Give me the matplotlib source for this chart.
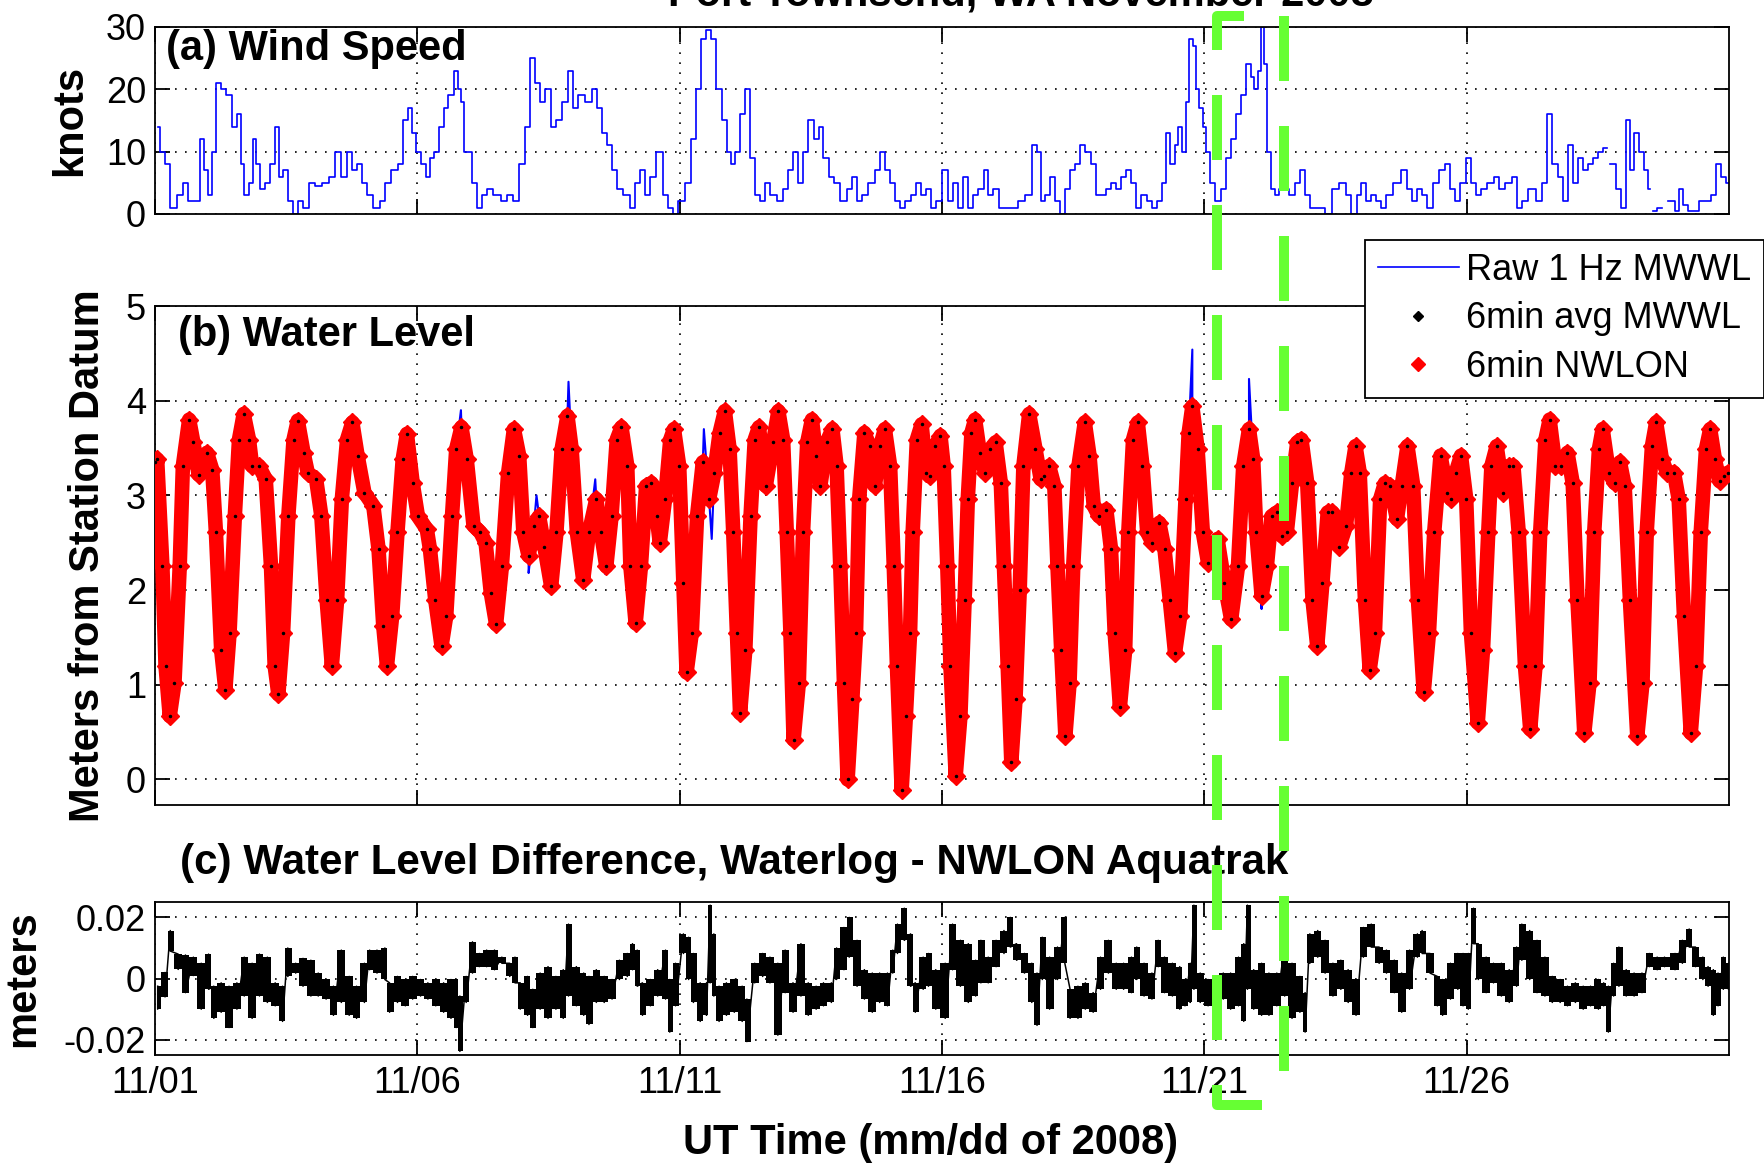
import numpy as np
import matplotlib.pyplot as plt
import matplotlib.transforms as mtransforms
from matplotlib.lines import Line2D

plt.rcParams['font.family'] = ['Liberation Sans', 'DejaVu Sans']
plt.rcParams['axes.unicode_minus'] = False

# time axis: days since 2008-11-01 00:00 UT
day_ticks = [0, 5, 10, 15, 20, 25]
day_labels = ['11/01', '11/06', '11/11', '11/16', '11/21', '11/26']

# (a) wind speed, knots (nan = data gap)
wind_day = [
    0.05, 0.15, 0.24, 0.34, 0.49, 0.58, 0.68, 0.83, 0.88, 0.97,
    1.05, 1.12, 1.22, 1.31, 1.41, 1.51, 1.61, 1.65, 1.75, 1.85,
    1.90, 1.96, 2.04, 2.14, 2.24, 2.33, 2.41, 2.48, 2.58, 2.68,
    2.77, 2.87, 3.00, 3.11, 3.26, 3.36, 3.50, 3.60, 3.70, 3.79,
    3.89, 3.99, 4.09, 4.23, 4.33, 4.43, 4.57, 4.69, 4.77, 4.86,
    4.94, 5.01, 5.11, 5.20, 5.27, 5.37, 5.47, 5.54, 5.64, 5.74,
    5.80, 5.86, 5.93, 6.01, 6.08, 6.18, 6.27, 6.37, 6.52, 6.66,
    6.76, 6.89, 7.00, 7.10, 7.20, 7.30, 7.39, 7.49, 7.59, 7.68,
    7.83, 7.91, 8.01, 8.12, 8.27, 8.37, 8.46, 8.56, 8.66, 8.75,
    8.85, 9.00, 9.10, 9.19, 9.29, 9.39, 9.48, 9.63, 9.73, 9.82,
    9.92, 10.02, 10.17, 10.26, 10.36, 10.46, 10.55, 10.65, 10.75, 10.85,
    10.94, 11.01, 11.09, 11.19, 11.28, 11.38, 11.48, 11.58, 11.67, 11.77,
    11.92, 12.01, 12.11, 12.21, 12.31, 12.40, 12.50, 12.60, 12.69, 12.79,
    12.89, 12.99, 13.13, 13.23, 13.33, 13.42, 13.52, 13.67, 13.76, 13.86,
    13.96, 14.06, 14.15, 14.25, 14.35, 14.45, 14.54, 14.64, 14.74, 14.83,
    14.93,
    15.06, 15.15, 15.25, 15.35, 15.45, 15.54, 15.64, 15.74, 15.84, 15.93,
    16.03, 16.13, 16.22, 16.37, 16.52, 16.66, 16.76, 16.86, 16.91, 17.00,
    17.10, 17.20, 17.29, 17.39, 17.49, 17.59, 17.68, 17.78, 17.88, 17.98,
    18.07, 18.17, 18.27, 18.36, 18.46, 18.56, 18.66, 18.75, 18.85, 18.95,
    19.05, 19.14, 19.24, 19.29, 19.39, 19.48, 19.53, 19.61, 19.68, 19.75,
    19.82, 19.87, 19.94, 20.00, 20.07, 20.16, 20.26, 20.36, 20.46, 20.55,
    20.65, 20.75, 20.85, 20.91, 20.99, 21.05, 21.11, 21.17, 21.23, 21.30,
    21.38, 21.48, 21.57, 21.67, 21.77, 21.87, 21.96, 22.06, 22.16, 22.26,
    22.35, 22.50, 22.64, 22.74, 22.86, 22.94, 23.03, 23.13, 23.23, 23.33,
    23.42, 23.52, 23.67, 23.81, 23.91, 24.01, 24.10, 24.20, 24.30, 24.40,
    24.54, 24.64, 24.74, 24.83, 24.93, 25.03, 25.13, 25.22, 25.32, 25.47,
    25.56, 25.66, 25.81, 25.90, 26.00, 26.10, 26.24, 26.39, 26.49, 26.58,
    26.68, 26.78, 26.88, 26.97, 27.07, 27.17, 27.27, 27.36, 27.46, 27.56,
    27.65, 27.70, 27.78, 27.90, 27.99, 28.07, 28.14, 28.24, 28.34, 28.43,
    28.48, 28.52, 28.58, 28.68, 28.75, 28.92, 29.02, 29.08, 29.16, 29.26,
    29.36, 29.50, 29.60, 29.70, 29.79, 29.89, 29.99,
]
nan = np.nan
wind_kt = [
    14, 10, 8, 1, 3, 5, 2, 2, 12, 7,
    3, 10, 21, 20, 19, 14, 16, 8, 3, 5,
    12, 8, 4, 5, 8, 14, 6, 7, 2, 0,
    2, 1, 5, 4.5, 5, 6, 10, 6, 10, 7,
    8, 5, 3, 1, 2, 5, 7, 8, 15, 17,
    13, 10, 8, 6, 9, 10, 14, 17, 19, 23,
    20, 18, 10, 10, 5, 1, 3, 4, 3, 2,
    3, 2, 8, 14, 25, 21, 18, 20, 14, 15,
    18, 23, 17, 19, 18, 20, 17, 13, 11, 7,
    4, 3, 1, 5, 7, 3, 6, 10, 3, 1,
    0, 2, 5, 12, 20, 28, 29.5, 28, 20, 15,
    10, 8, 10, 16, 20, 9, 3, 2, 5, 3,
    2, 4, 7, 10, 5, 10, 15, 12, 14, 9,
    6, 5, 2, 4, 6, 2, 3, 5, 7, 10,
    7, 5, 2, 1, 2, 3, 5, 3, 4, 1,
    2,
    7, 2, 5, 1, 6, 1, 3, 4, 7, 3,
    4, 1, 1, 1, 2, 3, 11, 10, 2, 3,
    6, 2, 0, 4, 7, 8, 11, 10, 8, 3,
    3, 4, 5, 4, 6, 7, 5, 1, 3, 2,
    1, 2, 5, 13, 8, 11, 14, 10, 18, 28,
    27, 20, 17, 14, 10, 5, 2, 4, 9, 12,
    16, 19, 24, 22, 20, 23, 30, 24, 10, 4,
    3, 4, 4, 3, 5, 7, 3, 1, 1, 1,
    0, 4, 5, 3, 0, 3, 5, 2, 3, 2,
    1, 3, 5, 7, 4, 2, 4, 3, 1, 5,
    7, 8, 4, 2, 5, 9, 5, 3, 4, 5,
    6, 4, 5, 6, 1, 2, 4, 2, 5, 16,
    8, 6, 2, 11, 5, 9, 7, 8, 9, 10,
    10.5, nan, 8, 4, 1, 15, 7, 13, 10, 7,
    4, nan, 0.5, 1, nan, 2, 0.5, 4, 1.5, 0.5,
    0.5, 2, 2, 3, 8, 6, 5,
]

# (b) 6-minute water level, meters above station datum
wl_day = [
    0.00, 0.04, 0.14, 0.20, 0.28, 0.37, 0.47, 0.53, 0.65, 0.73,
    0.83, 0.99, 1.09, 1.16, 1.26, 1.34, 1.42, 1.52, 1.60, 1.69,
    1.79, 1.85, 1.98, 2.11, 2.21, 2.28, 2.35, 2.44, 2.54, 2.64,
    2.72, 2.83, 2.91, 3.07, 3.17, 3.27, 3.37, 3.47, 3.56, 3.66,
    3.76, 3.86, 3.99, 4.16, 4.26, 4.35, 4.42, 4.52, 4.62, 4.72,
    4.80, 4.91, 5.01, 5.18, 5.24, 5.34, 5.46, 5.55, 5.66, 5.74,
    5.84, 5.94, 6.07, 6.20, 6.30, 6.40, 6.50, 6.61, 6.73, 6.84,
    6.94, 7.02, 7.12, 7.22, 7.32, 7.42, 7.55, 7.65, 7.75, 7.86,
    7.94, 8.04, 8.16, 8.27, 8.41, 8.50, 8.60, 8.70, 8.80, 8.89,
    9.00, 9.06, 9.16, 9.26, 9.36, 9.46, 9.56, 9.62, 9.72, 9.82,
    9.89, 9.99,
    10.07, 10.13, 10.23, 10.33, 10.44, 10.56, 10.66, 10.76, 10.86, 10.95,
    11.02, 11.09, 11.15, 11.25, 11.35, 11.43, 11.51, 11.64, 11.78, 11.88,
    11.97, 12.04, 12.11, 12.17, 12.27, 12.35, 12.43, 12.52, 12.60, 12.68,
    12.80, 12.91, 12.99, 13.06, 13.13, 13.20, 13.29, 13.36, 13.42, 13.52,
    13.62, 13.72, 13.82, 13.91, 14.01, 14.08, 14.14, 14.23, 14.31, 14.39,
    14.44, 14.52, 14.61, 14.70, 14.77, 14.87, 14.97, 15.03, 15.10, 15.16,
    15.26, 15.35, 15.43, 15.49, 15.56, 15.63, 15.72, 15.82, 15.92, 16.02,
    16.12, 16.18, 16.25, 16.32, 16.40, 16.48, 16.55, 16.66, 16.78, 16.88,
    16.94, 17.04, 17.14, 17.20, 17.27, 17.35, 17.43, 17.50, 17.60, 17.72,
    17.81, 17.89, 17.99, 18.13, 18.22, 18.29, 18.39, 18.49, 18.55, 18.64,
    18.73, 18.82, 18.91, 19.01, 19.14, 19.24, 19.34, 19.44, 19.54, 19.64,
    19.70, 19.77, 19.87, 19.97, 20.07,
    20.25, 20.38, 20.51, 20.64, 20.74, 20.85, 20.93, 20.99, 21.09, 21.19,
    21.28, 21.38, 21.48, 21.57, 21.67, 21.77, 21.85, 21.96, 22.06, 22.15,
    22.25, 22.35, 22.44, 22.57, 22.70, 22.80, 22.88, 22.96, 23.06, 23.15,
    23.25, 23.35, 23.44, 23.54, 23.67, 23.76, 23.87, 23.98, 24.07, 24.18,
    24.28, 24.38, 24.50, 24.63, 24.70, 24.79, 24.89, 24.99, 25.08, 25.21,
    25.31, 25.41, 25.47, 25.57, 25.70, 25.80, 25.89, 25.99, 26.11, 26.21,
    26.31, 26.40, 26.50, 26.58, 26.69, 26.79, 26.92, 27.02, 27.11, 27.24,
    27.34, 27.43, 27.52, 27.59, 27.71, 27.82, 27.92, 28.01, 28.11, 28.25,
    28.35, 28.43, 28.53, 28.61, 28.72, 28.82, 28.95, 29.04, 29.14, 29.27,
    29.37, 29.46, 29.56, 29.64, 29.73, 29.82, 29.91, 29.98,
]
wl_m = [
    3.35, 3.38, 2.25, 1.20, 0.67, 1.02, 2.25, 3.31, 3.80, 3.56,
    3.22, 3.45, 3.27, 2.61, 1.37, 0.95, 1.55, 2.78, 3.59, 3.86,
    3.59, 3.31, 3.31, 3.17, 2.25, 1.20, 0.90, 1.55, 2.78, 3.59,
    3.79, 3.45, 3.24, 3.17, 2.78, 1.90, 1.20, 1.90, 2.96, 3.59,
    3.77, 3.42, 3.03, 2.89, 2.43, 1.62, 1.20, 1.73, 2.61, 3.38,
    3.65, 3.13, 2.78, 2.64, 2.43, 1.90, 1.41, 1.73, 2.78, 3.49,
    3.72, 3.38, 2.68, 2.61, 2.50, 1.97, 1.64, 2.25, 3.24, 3.70,
    3.42, 2.61, 2.36, 2.68, 2.78, 2.46, 2.04, 2.61, 3.49, 3.84,
    3.49, 2.61, 2.11, 2.61, 2.96, 2.61, 2.25, 2.78, 3.59, 3.72,
    3.31, 2.25, 1.65, 2.25, 3.10, 3.13, 2.78, 2.50, 2.96, 3.59,
    3.70, 3.31,
    2.08, 1.13, 1.55, 2.78, 3.35, 2.96, 3.24, 3.66, 3.89, 3.49,
    2.61, 1.55, 0.70, 1.37, 2.78, 3.59, 3.72, 3.10, 3.56, 3.89,
    3.59, 2.61, 1.55, 0.42, 1.02, 2.61, 3.56, 3.80, 3.42, 3.10,
    3.56, 3.70, 3.31, 2.25, 1.02, 0.00, 0.85, 1.55, 2.96, 3.66,
    3.52, 3.10, 3.52, 3.70, 3.31, 2.25, 1.20, -0.11, 0.67, 1.55,
    2.61, 3.59, 3.75, 3.24, 3.20, 3.52, 3.63, 3.31, 2.25, 1.20,
    0.04, 0.67, 1.90, 2.96, 3.66, 3.80, 3.45, 3.24, 3.49, 3.56,
    3.13, 2.25, 1.20, 0.18, 0.85, 2.00, 3.31, 3.86, 3.49, 3.17,
    3.20, 3.31, 3.10, 2.25, 1.37, 0.46, 1.02, 2.25, 3.31, 3.77,
    3.42, 2.89, 2.78, 2.85, 2.43, 1.55, 0.77, 1.37, 2.61, 3.59,
    3.77, 3.31, 2.61, 2.50, 2.71, 2.43, 1.90, 1.34, 1.73, 2.96,
    3.66, 3.94, 3.49, 2.61, 2.29,
    2.54, 2.08, 1.69, 2.25, 3.31, 3.70, 3.38, 2.61, 1.94, 2.25,
    2.78, 2.82, 2.57, 2.61, 3.13, 3.56, 3.59, 3.13, 1.90, 1.41,
    2.08, 2.82, 2.82, 2.46, 2.68, 3.24, 3.52, 3.24, 1.90, 1.16,
    1.55, 2.96, 3.13, 3.10, 2.75, 3.10, 3.52, 3.10, 1.90, 0.92,
    1.55, 2.61, 3.42, 3.03, 2.96, 3.24, 3.42, 2.96, 1.55, 0.60,
    1.37, 2.61, 3.31, 3.52, 3.03, 3.31, 3.31, 2.61, 1.20, 0.53,
    1.20, 2.61, 3.59, 3.80, 3.31, 3.31, 3.45, 3.13, 1.90, 0.49,
    1.02, 2.61, 3.49, 3.70, 3.24, 3.13, 3.35, 3.10, 1.90, 0.46,
    1.02, 2.61, 3.52, 3.77, 3.38, 3.24, 3.24, 2.96, 1.73, 0.49,
    1.20, 2.61, 3.49, 3.70, 3.38, 3.15, 3.20, 3.24,
]

# short excursions of the raw 1 Hz record away from the 6-min values
spike_day = [5.83, 7.12, 7.27, 7.88, 8.39, 8.58, 10.46, 10.61, 10.86, 19.77, 20.85, 21.09]
spike_m = [3.90, 2.18, 3.00, 4.20, 3.17, 2.17, 3.70, 2.54, 3.97, 4.54, 4.23, 1.80]

# (c) Waterlog - Aquatrak difference, upper / lower edge of the trace (mm)
diff_day = [
    0.05, 0.19, 0.29, 0.44, 0.58, 0.73, 0.88, 1.02, 1.12, 1.26,
    1.41, 1.56, 1.70, 1.85, 1.99, 2.14, 2.29, 2.43, 2.53, 2.68,
    2.82, 2.97, 3.11, 3.26, 3.40, 3.55, 3.70, 3.84, 3.99, 4.09,
    4.23, 4.38, 4.47, 4.62, 4.77, 4.91, 5.06, 5.20, 5.35, 5.50,
    5.64, 5.74, 5.81, 5.93, 6.05, 6.18, 6.32, 6.47, 6.61, 6.76,
    6.86, 6.96, 7.10, 7.20, 7.34, 7.49, 7.64, 7.78, 7.88, 8.03,
    8.17, 8.27, 8.41, 8.56, 8.71, 8.85, 9.00, 9.10, 9.19, 9.29,
    9.44, 9.58, 9.73, 9.81, 9.92, 10.07, 10.17, 10.26, 10.39, 10.51,
    10.58, 10.65, 10.75, 10.89, 11.04, 11.19, 11.28, 11.43, 11.58, 11.72,
    11.87, 12.01, 12.16, 12.31, 12.45, 12.60, 12.74, 12.89, 12.99, 13.13,
    13.23, 13.38, 13.52, 13.67, 13.81, 13.96, 14.06, 14.15, 14.28, 14.40,
    14.49, 14.64, 14.74, 14.88,
    15.06, 15.20, 15.35, 15.50, 15.64, 15.74, 15.88, 16.03, 16.18, 16.30,
    16.42, 16.57, 16.71, 16.81, 16.91, 17.05, 17.20, 17.34, 17.44, 17.59,
    17.73, 17.88, 18.02, 18.17, 18.32, 18.46, 18.61, 18.71, 18.85, 19.00,
    19.12, 19.24, 19.39, 19.53, 19.63, 19.73, 19.80, 19.92, 20.07, 20.21,
    20.36, 20.50, 20.65, 20.75, 20.82, 20.94, 21.09, 21.23, 21.38, 21.53,
    21.67, 21.82, 21.92, 22.01, 22.16, 22.30, 22.45, 22.60, 22.74, 22.89,
    23.03, 23.18, 23.33, 23.47, 23.62, 23.76, 23.91, 24.06, 24.15, 24.30,
    24.44, 24.54, 24.69, 24.83, 24.93, 25.03, 25.13, 25.22, 25.37, 25.51,
    25.66, 25.81, 25.95, 26.05, 26.20, 26.34, 26.49, 26.63, 26.78, 26.92,
    27.07, 27.22, 27.36, 27.51, 27.61, 27.70, 27.80, 27.90, 28.04, 28.19,
    28.34, 28.48, 28.63, 28.77, 28.97, 29.11, 29.24, 29.36, 29.50, 29.60,
    29.70, 29.79, 29.89, 29.99,
]
diff_hi_mm = [
    -2.5, 2, 15.7, 8, 7.7, 7, 5, 8, -2.5, -1.4,
    -2.5, -1.4, 7, 5, 8, 7, -1.4, -2.5, 10, 5,
    6.6, 6, 1.8, -0.3, -2.5, 9.3, 0.7, -2.5, 5, 9.3,
    9.3, 10, -1.4, 0.7, -0.3, 0.7, -0.3, -1.4, -0.3, -1.4,
    -0.3, -0.3, -5.7, 0.7, 12, 8.2, 9.3, 9.3, 7, 5,
    7, -1.4, 0.7, -3.5, 1.8, 3.9, 0.7, 2.9, 17.8, 3.9,
    1.8, 0.7, 2.9, 0.7, -0.3, 6, 8.2, 11.4, 9.3, -1.4,
    -0.3, 2.9, 9.3, -0.3, 5, 14.6, 13.5, 8.2, -1.4, -1.4,
    24, 14.6, -2.5, -1.4, -0.3, -2.5, -6.7, 5, 8.2, 7,
    5, 9.3, -1.4, 11.4, -1.4, -2.5, -1.4, -1.4, 10, 16.7,
    20, 12.5, 2.9, 1.8, 1.8, 1.8, 9.3, 17.8, 23, 14.6,
    -1.4, 7, 8.2, 2.9,
    5, 17.8, 12.5, 11.4, 6, 12.5, 7, 12.5, 15.7, 20,
    11.4, 8.2, 5, 1.8, 13.5, 7, 10.3, 20, -3.5, -2.5,
    -1.4, -4.6, 7, 12.5, 5, 5, 7, 10.3, 5, 1.8,
    12.5, 7, 5, 3.9, -0.3, 5, 24, 1.8, -0.3, -0.3,
    1.8, 1.8, 7, 11.4, 24, 2.9, 5, 1.8, 1.8, 11.4,
    5, 0.7, -4.6, 14.6, 15.7, 12.5, 5, 6, 2.9, -0.3,
    16.7, 17.8, 10.3, 9.3, 6, 1.8, 9.3, 14.6, 15.7, 8.2,
    0.7, -0.3, 5, 8.2, 8.2, 8.2, 23, 11.4, 7, 5,
    5, 2.9, 10.3, 17.8, 15.7, 12.5, 7, 0.7, -0.3, -2.5,
    -1.4, -2.5, -2.5, -0.3, -1.4, -2.5, 5, 10.3, 2.9, 1.8,
    1.8, 8.2, 7, 7, 8.2, 12.5, 16.2, 10.3, 7, 3.9,
    2.9, 1.8, 7, 5,
]
diff_lo_mm = [
    -10, -6, 9, 3, -4.6, 1, -10, -3.5, -13, -11,
    -16, -10, -5.7, -13, -5.7, -7.8, -8.9, -14, 0.7, 1.8,
    -2.5, -5.7, -5.7, -6.7, -12, -7.8, -12, -13, -7.8, 2.9,
    1.8, -0.3, -11, -7.8, -8.9, -6.7, -5.7, -6.7, -8.9, -11,
    -13, -16, -23.8, -7.8, 1.8, 3.9, 3.9, 2.9, 5, 0.7,
    -1.4, -10, -12, -16, -10, -13, -10, -13, -5.7, -8.9,
    -12, -15, -7.8, -7.8, -6.7, -0.3, 0.7, 2.9, -2.5, -12,
    -8.9, -5.7, -6.7, -17.5, -8.9, 8.2, -0.3, -7.8, -14, -12,
    -1.4, -5.7, -14, -12, -11, -14, -20.6, -1.4, 0.7, -1.4,
    -18.5, -4.6, -11, -5.7, -12, -10, -8.9, -7.8, -0.3, 2.9,
    7, -2.5, -6.7, -11, -7.8, -8.9, 1.8, 8.2, 12.5, -2.5,
    -11, -3.5, -2.5, -10,
    -13, 2.9, -2.5, -7.8, -5.7, -1.4, -1.4, 3.9, 8.2, 10.3,
    6, 1.8, -7.8, -15.3, -0.3, -10, -0.3, 5, -13, -13,
    -10, -11, -3.5, 1.8, -3.5, -3.5, -4.6, -0.3, -5.7, -6.7,
    3.9, -4.6, -5.7, -10, -8.9, -7.8, -3.5, -7.8, -8.9, -7.8,
    -6.7, -10, -8.9, -14, -3.5, -10, -12, -12, -8.9, -5.7,
    -13, -11, -17.5, 5, 7, 1.8, -5.7, -3.5, -7.8, -12,
    7, 10.3, 5, 1.8, -4.6, -11, -3.5, 7, 8.2, 1.8,
    -8.9, -12, -6.7, -3.5, -8.9, -10, 11.4, -0.3, -4.6, -1.4,
    -5.7, -7.8, -2.5, 6, -0.3, -4.6, -5.7, -7.8, -7.8, -8.9,
    -7.8, -10, -8.9, -10, -8.9, -17.5, -5.7, -2.5, -5.7, -5.7,
    -4.6, 3.9, 2.9, 3.9, 2.9, 5, 10.3, 3.9, -0.3, -2.5,
    -12, -8.9, -3.5, -3.5,
]

# highlighted interval (days) shown in the detailed figure
box_days = (20.24, 21.52)

# raw record = 6-min series with the spikes merged in time order
raw_day = np.concatenate([wl_day, spike_day])
raw_m = np.concatenate([wl_m, spike_m])
order = np.argsort(raw_day)
raw_day, raw_m = raw_day[order], raw_m[order]

# difference trace: envelope plus a top/bottom zig-zag
hi_m = np.array(diff_hi_mm) / 1000.0
lo_m = np.array(diff_lo_mm) / 1000.0
d_day = np.repeat(diff_day, 2)
d_m = np.column_stack([hi_m, lo_m]).ravel()

fig = plt.figure(figsize=(17.64, 11.64), dpi=100)
L, W = 0.0879, 0.8923
ax1 = fig.add_axes([L, 0.8162, W, 0.1607])
ax2 = fig.add_axes([L, 0.3084, W, 0.4287])
ax3 = fig.add_axes([L, 0.0936, W, 0.1314])


def matlab_style(ax):
    ax.set_xlim(0, 30)
    ax.set_xticks(day_ticks)
    ax.grid(True, color='k', linestyle=(0, (1, 5)), linewidth=1.2)
    ax.set_axisbelow(True)
    ax.tick_params(direction='in', length=11, width=1.3, top=True, right=True,
                   labelsize=26)
    ax.tick_params(axis='y', pad=6.5)
    ax.tick_params(axis='x', pad=8)
    for s in ax.spines.values():
        s.set_linewidth(1.3)


for ax in (ax1, ax2, ax3):
    matlab_style(ax)

# (a) wind
ax1.plot(wind_day, wind_kt, color='b', lw=1.2, drawstyle='steps-mid')
ax1.set_ylim(0, 30)
ax1.set_yticks([0, 10, 20, 30])
ax1.tick_params(labelbottom=False)
ax1.set_ylabel('knots', fontsize=30, fontweight='bold')
ax1.yaxis.set_label_coords(-0.041, 0.5)
ax1.text(0.007, 0.99, '(a) Wind Speed', transform=ax1.transAxes,
         fontsize=30, fontweight='bold', va='top', ha='left')

# (b) water level
ax2.plot(raw_day, raw_m, color='b', lw=1.5, zorder=2)
ax2.plot(wl_day, wl_m, color='r', lw=10.5, solid_joinstyle='round',
         solid_capstyle='round', zorder=3)
ax2.plot(wl_day, wl_m, ls='none', marker='D', ms=9, color='r', zorder=3)
ax2.plot(wl_day, wl_m, ls='none', marker='.', ms=3, color='k', zorder=4)
ax2.set_ylim(-0.27, 5)
ax2.set_yticks([0, 1, 2, 3, 4, 5])
ax2.tick_params(labelbottom=False)
ax2.set_ylabel('Meters from Station Datum', fontsize=30, fontweight='bold')
ax2.yaxis.set_label_coords(-0.030, 0.5)
ax2.text(0.0146, 0.982, '(b) Water Level', transform=ax2.transAxes,
         fontsize=30, fontweight='bold', va='top', ha='left')

# (c) difference
ax3.fill_between(diff_day, lo_m, hi_m, step='mid', color='k', lw=0)
ax3.plot(d_day, d_m, color='k', lw=1.1)
ax3.set_ylim(-0.025, 0.025)
ax3.set_yticks([-0.02, 0, 0.02])
ax3.set_yticklabels(['-0.02', '0', '0.02'])
ax3.set_xticklabels(day_labels)
ax3.set_ylabel('meters', fontsize=30, fontweight='bold')
ax3.yaxis.set_label_coords(-0.071, 0.5)
ax3.set_xlabel('UT Time (mm/dd of 2008)', fontsize=30, fontweight='bold')
ax3.xaxis.set_label_coords(0.493, -0.444)
ax3.text(0.016, 1.255, '(c) Water Level Difference, Waterlog - NWLON Aquatrak',
         transform=ax3.transAxes, fontsize=30.3, fontweight='bold',
         va='center', ha='left')

fig.text(0.579, 0.9957, 'Port Townsend, WA November 2008', fontsize=30,
         fontweight='bold', ha='center', va='baseline')

handles = [
    Line2D([], [], color='b', lw=1.2),
    Line2D([], [], ls='none', marker='D', ms=5, color='k'),
    Line2D([], [], ls='none', marker='D', ms=7, color='r'),
]
leg = fig.legend(handles, ['Raw 1 Hz MWWL', '6min avg MWWL', '6min NWLON'],
                 loc='upper left', bbox_to_anchor=(0.7738, 0.7938),
                 fontsize=26, frameon=True, fancybox=False, framealpha=1,
                 edgecolor='k', borderpad=0.35, handlelength=2.25,
                 handletextpad=0.2, labelspacing=0.38, borderaxespad=0)
leg.get_frame().set_linewidth(1.3)

# dashed green box over the highlighted days, spanning all panels:
# left side (with its corner pieces) and right side as two dashed strokes
trans = mtransforms.blended_transform_factory(ax3.transData, fig.transFigure)
bx0, bx1 = box_days
bw = bx1 - bx0
by0, by1 = 1 - 1105 / 1164, 1 - 16 / 1164
green = dict(transform=trans, color='#66ff33', lw=7.2,
             linestyle=(0, (6.5, 4.5)), zorder=10)
fig.add_artist(Line2D([bx0 + 0.67 * bw, bx0, bx0, bx0 + 0.4 * bw],
                      [by0, by0, by1, by1], **green))
fig.add_artist(Line2D([bx1, bx1], [by1, by0], **green))

fig.savefig('out.png', dpi=100)
